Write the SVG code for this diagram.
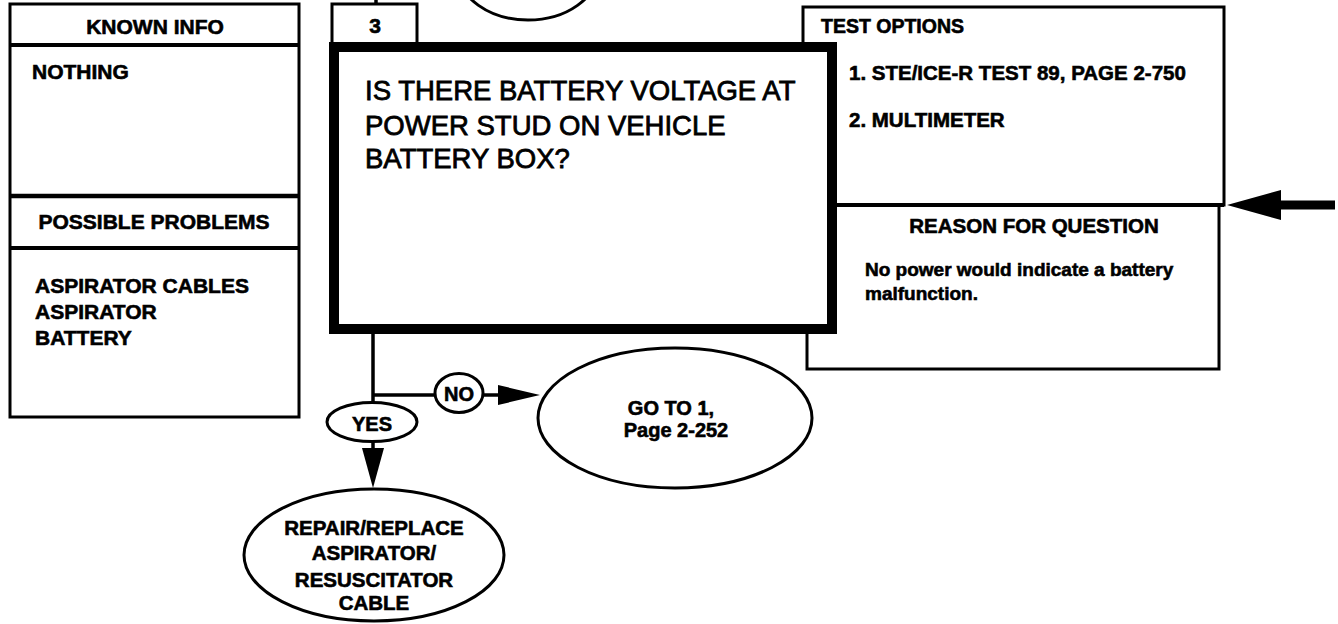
<svg xmlns="http://www.w3.org/2000/svg" width="1338" height="624" viewBox="0 0 1338 624">
  <style>
    .box { fill: #fff; stroke: #000; stroke-width: 3; }
    .thin { fill: none; stroke: #000; stroke-width: 3; }
    .b { font-family: "Liberation Sans", Arial, sans-serif; font-weight: bold; fill: #000; stroke: #000; stroke-width: 0.6; }
    .q { font-family: "Liberation Sans", Arial, sans-serif; font-size: 27.5px; fill: #000; stroke: #000; stroke-width: 0.8; }
    .c { text-anchor: middle; }
    .line { fill: none; stroke: #000; stroke-width: 3.5; }
    .ar { fill: #000; stroke: none; }
  </style>
  <rect width="1338" height="624" fill="#fff"/>

  <!-- partial node above -->
  <g id="prev-node">
    <ellipse cx="528" cy="-30" rx="70" ry="50" class="thin" stroke-width="3.5"/>
  </g>

  <!-- left info panel -->
  <g id="known-info">
    <rect x="10" y="4" width="289" height="413" class="box"/>
    <line x1="10" y1="45" x2="299" y2="45" stroke="#000" stroke-width="4"/>
    <text x="155" y="34" class="b c" font-size="21">KNOWN INFO</text>
    <text x="32" y="79" class="b" font-size="21">NOTHING</text>
  </g>
  <g id="possible-problems">
    <line x1="10" y1="196" x2="299" y2="196" stroke="#000" stroke-width="4.5"/>
    <line x1="10" y1="248" x2="299" y2="248" stroke="#000" stroke-width="4"/>
    <text x="154" y="229" class="b c" font-size="21">POSSIBLE PROBLEMS</text>
    <text x="35" y="293" class="b" font-size="21">ASPIRATOR CABLES</text>
    <text x="35" y="319" class="b" font-size="21">ASPIRATOR</text>
    <text x="35" y="345" class="b" font-size="21">BATTERY</text>
  </g>

  <!-- right panels -->
  <g id="test-options">
    <rect x="803" y="7" width="421" height="198" class="box"/>
    <text x="821" y="33" class="b" font-size="19.5">TEST OPTIONS</text>
    <text x="849" y="80" class="b" font-size="20.5">1. STE/ICE-R TEST 89, PAGE 2-750</text>
    <text x="849" y="127" class="b" font-size="20.5">2. MULTIMETER</text>
  </g>
  <g id="reason-for-question">
    <rect x="807" y="205" width="412" height="164" class="box"/>
    <line x1="803" y1="205" x2="1224" y2="205" stroke="#000" stroke-width="4"/>
    <text x="1034" y="233" class="b c" font-size="20.5">REASON FOR QUESTION</text>
    <text x="865" y="276" class="b" font-size="19">No power would indicate a battery</text>
    <text x="865" y="300" class="b" font-size="19">malfunction.</text>
  </g>

  <!-- step number -->
  <g id="step-number">
    <rect x="332" y="4" width="85" height="40" class="box"/>
    <text x="375" y="33" class="b c" font-size="21">3</text>
  </g>

  <!-- question box -->
  <g id="question">
    <rect x="334" y="47" width="498" height="282" fill="#fff" stroke="#000" stroke-width="10"/>
    <text x="365" y="100" class="q">IS THERE BATTERY VOLTAGE AT</text>
    <text x="365" y="135" class="q">POWER STUD ON VEHICLE</text>
    <text x="365" y="168" class="q">BATTERY BOX?</text>
  </g>

  <!-- connectors -->
  <g id="connectors">
    <line x1="376" y1="0" x2="376" y2="5" class="line" stroke-width="3"/>
    <line x1="373" y1="333" x2="373" y2="404" class="line"/>
    <line x1="373" y1="395" x2="435" y2="395" class="line"/>
    <line x1="483" y1="395" x2="502" y2="395" class="line"/>
    <polygon points="498,385 540,395 498,405" class="ar"/>
    <line x1="373" y1="441" x2="373" y2="450" class="line"/>
    <polygon points="362,448 384,448 373,488" class="ar"/>
    <line x1="1276" y1="205" x2="1335" y2="205" stroke="#000" stroke-width="9"/>
    <polygon points="1227,205 1281,190 1281,220" class="ar"/>
  </g>

  <!-- decision labels -->
  <g id="label-no">
    <ellipse cx="459" cy="393" rx="24" ry="19.5" class="box"/>
    <text x="459" y="401" class="b c" font-size="20">NO</text>
  </g>
  <g id="label-yes">
    <ellipse cx="372" cy="422" rx="45" ry="19.5" class="box"/>
    <text x="372" y="431" class="b c" font-size="20">YES</text>
  </g>

  <!-- outcomes -->
  <g id="goto-1">
    <ellipse cx="675" cy="418" rx="137" ry="70" class="box" stroke-width="3.5"/>
    <text x="671" y="415" class="b c" font-size="20">GO TO 1,</text>
    <text x="676" y="437" class="b c" font-size="20">Page 2-252</text>
  </g>
  <g id="repair-cable">
    <ellipse cx="374" cy="555" rx="130" ry="66" class="box" stroke-width="3.5"/>
    <text x="374" y="535" class="b c" font-size="20.5">REPAIR/REPLACE</text>
    <text x="374" y="560" class="b c" font-size="20.5">ASPIRATOR/</text>
    <text x="374" y="587" class="b c" font-size="20.5">RESUSCITATOR</text>
    <text x="374" y="610" class="b c" font-size="20.5">CABLE</text>
  </g>
</svg>
